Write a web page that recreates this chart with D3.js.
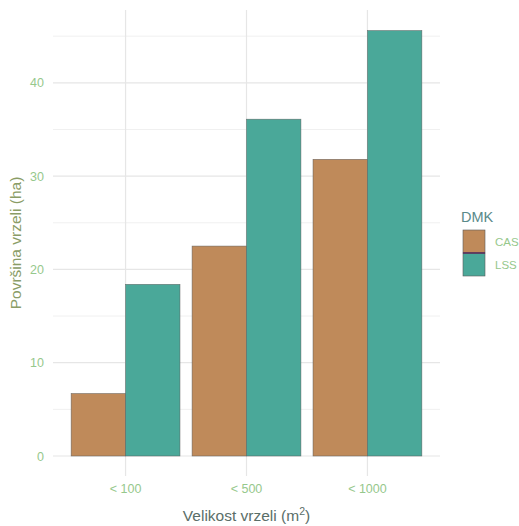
<!DOCTYPE html>
<html><head><meta charset="utf-8">
<script src="https://cdn.jsdelivr.net/npm/d3@7"></script>
<style>body{margin:0;background:#fff}svg{display:block;font-family:"Liberation Sans",Arial,sans-serif}</style>
</head><body><svg id="c" width="519" height="526"></svg>
<script>
const categories = ["< 100", "< 500", "< 1000"];
const groups = ["CAS", "LSS"];
const casValues = [6.7, 22.5, 31.8];
const lssValues = [18.4, 36.1, 45.6];
const yTicks = [0, 10, 20, 30, 40];
const yMinor = [5, 15, 25, 35, 45];
const colors = {CAS: "#bf8a5a", LSS: "#4aa899"};

const data = categories.map((c, i) => ({cat: c, CAS: casValues[i], LSS: lssValues[i]}));
const svg = d3.select("#c");
const L = 53, R = 440, T = 10, B = 476;
const x = d3.scaleBand().domain(categories).range([L, R]).paddingInner(0.1).paddingOuter(0.15);
const y = d3.scaleLinear().domain([0, 45.6 * 1.05]).range([456, 456 - 45.6 * 1.05 * 9.33]);
const xs = d3.scaleBand().domain(groups).range([0, x.bandwidth()]);

const g = svg.append("g");
g.selectAll(".ymin").data(yMinor).join("line")
  .attr("x1", L).attr("x2", R).attr("y1", d => y(d)).attr("y2", d => y(d))
  .attr("stroke", "#f0f0f0").attr("stroke-width", 1);
g.selectAll(".ymaj").data(yTicks).join("line")
  .attr("x1", L).attr("x2", R).attr("y1", d => y(d)).attr("y2", d => y(d))
  .attr("stroke", "#e6e6e6").attr("stroke-width", 1.2);
g.selectAll(".xmaj").data(categories).join("line")
  .attr("x1", d => x(d) + x.bandwidth() / 2).attr("x2", d => x(d) + x.bandwidth() / 2)
  .attr("y1", T).attr("y2", B)
  .attr("stroke", "#e6e6e6").attr("stroke-width", 1.2);

const bg = g.selectAll(".grp").data(data).join("g").attr("transform", d => `translate(${x(d.cat)},0)`);
bg.selectAll("rect").data(d => groups.map(k => ({k, v: d[k]}))).join("rect")
  .attr("x", d => xs(d.k)).attr("width", xs.bandwidth())
  .attr("y", d => y(d.v)).attr("height", d => y(0) - y(d.v))
  .attr("fill", d => colors[d.k]).attr("stroke", "#5a5a5a").attr("stroke-width", 0.6).attr("stroke-opacity", 0.8);

const yAx = svg.append("g").attr("transform", `translate(${L},0)`)
  .call(d3.axisLeft(y).tickValues(yTicks).tickSize(0).tickPadding(9));
yAx.select(".domain").remove();
yAx.selectAll("text").attr("fill", "#96c88c").attr("font-size", 12.5).attr("font-family", "Liberation Sans, Arial, sans-serif");
const xAx = svg.append("g").attr("transform", `translate(0,${B})`)
  .call(d3.axisBottom(x).tickSize(0).tickPadding(8));
xAx.select(".domain").remove();
xAx.selectAll("text").attr("fill", "#96c88c").attr("font-size", 12.5).attr("font-family", "Liberation Sans, Arial, sans-serif");

const xt = svg.append("text").attr("x", (L + R) / 2).attr("y", 521).attr("text-anchor", "middle")
  .attr("font-size", 15.5).attr("fill", "#5a6e68");
xt.append("tspan").text("Velikost vrzeli (m");
xt.append("tspan").text("2").attr("dy", -6).attr("font-size", 10.5);
xt.append("tspan").text(")").attr("dy", 6);
svg.append("text").attr("transform", `translate(21,${(T + 456) / 2 + 10}) rotate(-90)`)
  .attr("text-anchor", "middle").attr("font-size", 15.5).attr("fill", "#8a9c66").text("Površina vrzeli (ha)");

const lg = svg.append("g").attr("transform", "translate(463,228)");
lg.append("text").attr("x", -2).attr("y", -6).attr("font-size", 14.5).attr("fill", "#5a8a8a").text("DMK");
groups.forEach((k, i) => {
  lg.append("rect").attr("x", 0).attr("y", 2 + i * 23).attr("width", 22).attr("height", 23)
    .attr("fill", colors[k]).attr("stroke", "#5a5a5a").attr("stroke-width", 0.6);
  lg.append("text").attr("x", 32).attr("y", 18 + i * 23).attr("font-size", 11.5).attr("fill", "#96c88c").text(k);
});
lg.append("line").attr("x1", 0).attr("x2", 22).attr("y1", 25).attr("y2", 25).attr("stroke", "#5a2a5a").attr("stroke-width", 1.5);
</script></body></html>
